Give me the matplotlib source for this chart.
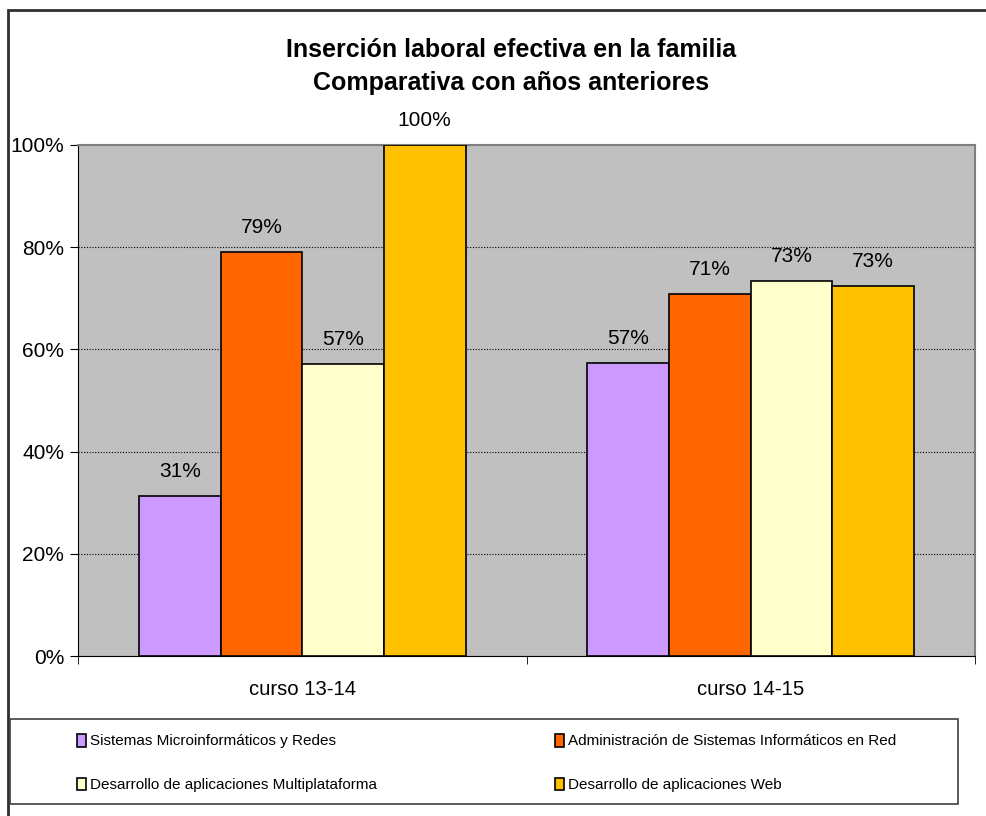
import matplotlib
matplotlib.use("Agg")
import matplotlib.pyplot as plt
from matplotlib.patches import Rectangle
import numpy as np

plt.rcParams['font.family'] = ['Liberation Sans', 'DejaVu Sans']

categories = ["curso 13-14", "curso 14-15"]
series_names = [
    "Sistemas Microinformáticos y Redes",
    "Administración de Sistemas Informáticos en Red",
    "Desarrollo de aplicaciones Multiplataforma",
    "Desarrollo de aplicaciones Web",
]
values = {
    "Sistemas Microinformáticos y Redes": [31.3, 57.3],
    "Administración de Sistemas Informáticos en Red": [79.1, 70.8],
    "Desarrollo de aplicaciones Multiplataforma": [57.1, 73.4],
    "Desarrollo de aplicaciones Web": [100.0, 72.4],
}
labels_txt = {
    "Sistemas Microinformáticos y Redes": ["31%", "57%"],
    "Administración de Sistemas Informáticos en Red": ["79%", "71%"],
    "Desarrollo de aplicaciones Multiplataforma": ["57%", "73%"],
    "Desarrollo de aplicaciones Web": ["100%", "73%"],
}
colors = ["#CC99FF", "#FF6600", "#FFFFCC", "#FFC000"]
yticks = [0, 20, 40, 60, 80, 100]
ytick_labels = ["0%", "20%", "40%", "60%", "80%", "100%"]

W, H = 986, 816
fig = plt.figure(figsize=(W / 100, H / 100), dpi=100)
fig.patch.set_facecolor("white")

# outer chart border (top & left visible)
fig.add_artist(Rectangle((8 / W, -0.1), 1.2, 1 - 10 / H + 0.1, transform=fig.transFigure,
                         fill=False, edgecolor="#303030", linewidth=2))

ax = fig.add_axes([78 / W, 1 - 656 / H, (975 - 78) / W, (656 - 145) / H])
ax.set_facecolor("#C0C0C0")

x = np.arange(len(categories))
bw = 0.182
n = len(series_names)
handles = []
for i, name in enumerate(series_names):
    pos = x + (i - (n - 1) / 2) * bw
    b = ax.bar(pos, values[name], width=bw, color=colors[i], edgecolor="black",
               linewidth=1.2, zorder=3, label=name)
    handles.append(b)
    for p, v, t in zip(pos, values[name], labels_txt[name]):
        ax.text(p, v + 2.9, t, ha="center", va="bottom", fontsize=15, color="black", zorder=4)

ax.set_xlim(-0.5, 1.5)
ax.set_ylim(0, 100)
ax.set_yticks(yticks)
ax.set_yticklabels(ytick_labels, fontsize=15)
ax.yaxis.grid(True, linestyle=(0, (1, 1.5)), color="black", linewidth=0.8, zorder=1)
ax.set_axisbelow(True)

ax.set_xticks(x)
ax.set_xticklabels(categories, fontsize=14.6)
ax.tick_params(axis="x", length=0, pad=17)
ax.set_xticks([-0.5, 0.5, 1.5], minor=True)
ax.tick_params(axis="x", which="minor", length=6, direction="out", color="black")
ax.tick_params(axis="y", length=6, direction="out", color="black", pad=4)

for s in ["top", "right"]:
    ax.spines[s].set_color("#808080")
    ax.spines[s].set_linewidth(1.5)
ax.spines["left"].set_color("black")
ax.spines["bottom"].set_color("black")

fig.text(511 / W, 1 - 50 / H, "Inserción laboral efectiva en la familia",
         ha="center", va="center", fontsize=18, fontweight="bold")
fig.text(511 / W, 1 - 83 / H, "Comparativa con años anteriores",
         ha="center", va="center", fontsize=18, fontweight="bold")

# legend box
fig.add_artist(Rectangle((10 / W, 1 - 804 / H), (958 - 10) / W, (804 - 719) / H,
                         transform=fig.transFigure, fill=False, edgecolor="#404040", linewidth=1.2))

leg_font = {"family": ["Liberation Sans Narrow", "Liberation Sans", "DejaVu Sans"], "size": 11}
leg1 = fig.legend([handles[0], handles[2]], [series_names[0], series_names[2]],
                  loc="center left", bbox_to_anchor=(71 / W, 1 - 763 / H), frameon=False,
                  prop=leg_font, handlelength=0.55, handleheight=0.9, handletextpad=0.3,
                  labelspacing=1.9, borderaxespad=0)
leg2 = fig.legend([handles[1], handles[3]], [series_names[1], series_names[3]],
                  loc="center left", bbox_to_anchor=(549 / W, 1 - 763 / H), frameon=False,
                  prop=leg_font, handlelength=0.55, handleheight=0.9, handletextpad=0.3,
                  labelspacing=1.9, borderaxespad=0)

fig.savefig("out.png", dpi=100)
